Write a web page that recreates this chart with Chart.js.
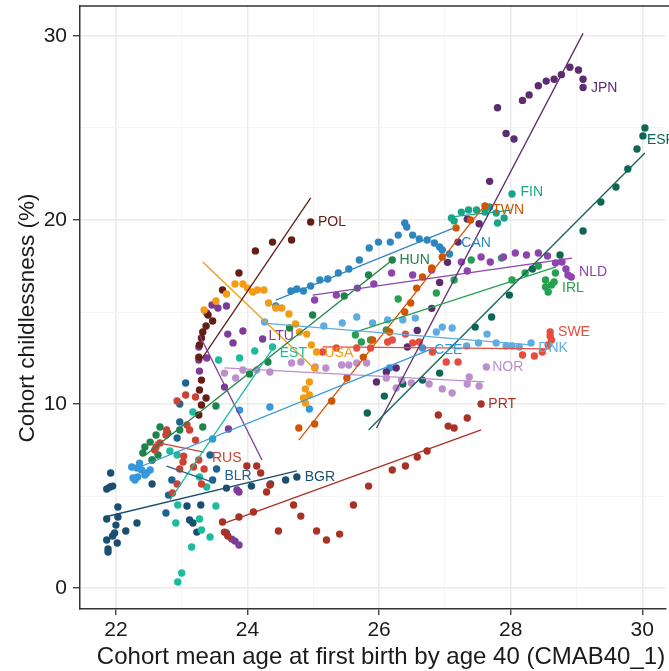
<!DOCTYPE html>
<html>
<head>
<meta charset="utf-8">
<script src="https://cdn.jsdelivr.net/npm/chart.js@4.4.1/dist/chart.umd.min.js"></script>
<style>
html,body{margin:0;padding:0;background:#fff;overflow:hidden;}
canvas{display:block;}
</style>
</head>
<body>
<canvas id="c" width="669" height="671"></canvas>
<script>
// ---------- DATA (x = cohort mean age at first birth, y = childlessness %) ----------
const countries = ['BGR','BLR','CAN','CZE','DNK','ESP','EST','FIN','HUN','IRL','JPN','LTU','NLD','NOR','POL','PRT','RUS','SWE','TWN','USA'];

const BGR = [[21.86,3.75],[21.86,2.61],[21.88,2.12],[21.88,1.96],[21.91,5.49],[21.86,5.38],[21.92,6.25],[21.95,5.54],[21.95,2.83],[21.98,2.99],[22.00,3.42],[22.02,2.45],[22.03,4.40],[22.03,3.86],[22.15,3.10],[22.32,3.53],[22.55,5.65],[23.08,4.46],[23.12,3.70],[23.17,3.53],[23.23,3.04],[23.29,4.51],[23.68,5.43],[24.06,5.54],[24.35,5.65],[24.58,5.87],[24.75,6.03]];
const BLR = [[22.76,4.08],[22.80,5.05],[22.85,5.87],[22.93,8.15],[22.97,9.02],[22.97,10.0],[23.06,11.14],[23.43,7.23],[23.47,5.87],[23.53,6.47]];
const CAN = [[24.43,15.33],[24.66,16.14],[24.75,16.25],[24.85,16.14],[24.96,16.41],[25.10,16.74],[25.22,16.79],[25.38,17.12],[25.54,17.34],[25.70,17.83],[25.85,18.48],[25.99,18.80],[26.17,18.80],[26.29,19.18],[26.39,19.84],[26.42,19.62],[26.51,19.18],[26.61,18.97],[26.73,18.91],[26.84,18.75],[26.92,18.53],[26.96,18.37],[27.07,18.15]];
const CZE = [[22.24,6.58],[22.29,5.87],[22.32,6.52],[22.33,6.03],[22.39,6.41],[22.44,6.14],[22.47,6.25],[22.52,6.41],[22.55,6.96],[22.26,5.98],[22.36,6.79],[23.47,8.10],[23.88,9.67],[24.34,9.84],[24.94,9.73],[26.16,11.96],[26.66,13.04]];
const DNK = [[24.26,14.46],[25.16,14.24],[25.44,14.40],[25.66,14.73],[25.90,14.40],[26.13,14.57],[26.36,14.57],[26.55,14.67],[26.87,13.91],[26.96,14.18],[27.11,14.13],[27.33,13.15],[27.51,13.32],[27.64,13.80],[27.78,13.32],[27.93,13.15],[28.02,13.15],[28.13,13.10],[28.31,13.32]];
const ESP = [[25.82,9.51],[26.08,10.43],[26.36,11.09],[26.66,11.30],[26.92,11.68],[27.46,14.18],[27.71,14.73],[27.98,15.92],[28.33,17.34],[28.75,18.10],[29.10,19.40],[29.37,20.98],[29.60,21.79],[29.78,22.77],[29.92,23.86],[30.01,24.57],[30.04,25.0]];
const EST = [[22.82,7.45],[22.93,7.23],[23.17,9.57],[23.27,6.03],[23.38,5.49],[23.52,4.46],[23.27,3.75],[23.30,3.15],[23.43,2.77],[23.15,2.23],[22.94,4.51],[22.91,3.53],[23.00,0.82],[22.94,0.33],[23.56,12.39],[23.88,12.5],[24.11,12.88],[24.38,13.10]];
const FIN = [[27.10,20.11],[27.14,19.95],[27.25,20.43],[27.36,20.54],[27.48,20.54],[27.61,20.43],[27.68,20.71],[27.78,20.38],[27.80,19.84],[27.90,20.11],[28.02,21.41]];
const HUN = [[22.41,7.34],[22.44,7.66],[22.52,7.93],[22.55,6.96],[22.61,8.32],[22.64,7.23],[22.67,8.75],[22.79,8.42],[22.97,8.59],[23.32,8.75],[23.52,9.89],[24.03,11.63],[24.31,12.28],[24.64,14.13],[24.99,14.84],[25.47,15.87],[25.84,17.01],[26.20,17.83]];
const IRL = [[25.64,13.75],[25.73,13.37],[25.87,13.48],[26.11,14.02],[26.29,15.71],[26.87,16.03],[27.14,16.74],[27.40,17.83],[27.86,17.93],[28.02,16.74],[28.22,17.12],[28.42,17.50],[28.53,16.74],[28.53,16.36],[28.57,16.09],[28.62,16.47],[28.66,16.63],[28.68,17.12]];
const JPN = [[25.96,11.2],[26.11,11.74],[26.26,11.96],[26.43,13.1],[26.58,14.0],[26.80,15.2],[26.92,16.6],[27.04,17.7],[27.20,18.8],[27.34,20.05],[27.52,19.8],[27.68,22.1],[27.93,24.7],[28.05,24.4],[27.80,26.1],[28.18,26.5],[28.28,26.8],[28.42,27.3],[28.54,27.55],[28.66,27.65],[28.77,27.9],[28.90,28.3],[29.03,28.15],[29.10,27.65],[29.10,27.2]];
const LTU = [[23.26,13.10],[23.26,12.39],[23.27,11.79],[23.38,14.95],[23.38,12.50],[23.46,15.38],[23.55,15.22],[23.68,15.33],[23.70,13.80],[23.78,13.32],[23.93,13.97],[24.23,13.53],[23.65,10.92],[23.71,8.64],[23.84,5.33],[23.87,5.22],[23.68,2.99],[23.76,2.66],[23.81,2.55],[23.87,2.34]];
const NLD = [[25.02,15.65],[25.35,15.92],[25.67,16.30],[25.92,16.52],[26.19,17.12],[26.51,17.01],[26.80,17.28],[27.25,17.72],[27.34,17.23],[27.55,17.99],[27.69,17.72],[27.89,17.99],[28.07,18.21],[28.24,18.10],[28.42,18.21],[28.56,18.04],[28.68,17.66],[28.78,17.72],[28.84,17.34],[28.87,17.01],[28.92,16.90]];
const NOR = [[23.65,11.68],[23.82,11.41],[23.93,11.85],[24.14,11.85],[24.34,11.74],[24.67,12.23],[24.81,12.28],[25.03,12.01],[25.19,11.96],[25.43,12.12],[25.54,12.12],[25.66,12.23],[25.81,12.23],[26.11,11.41],[26.26,10.87],[26.34,11.30],[26.49,11.14],[26.76,11.09],[26.96,10.82],[27.11,10.60],[27.34,11.09],[27.37,11.47],[27.52,10.98],[27.63,12.01]];
const POL = [[23.26,9.40],[23.30,9.95],[23.37,10.33],[23.27,10.76],[23.30,11.30],[23.26,12.55],[23.27,13.21],[23.30,13.59],[23.32,13.91],[23.37,14.24],[23.47,14.51],[23.40,14.84],[23.62,16.20],[23.87,17.12],[24.12,18.32],[24.38,18.80],[24.67,18.91],[24.96,19.89]];
const PRT = [[23.62,3.59],[23.65,3.04],[23.70,2.83],[23.87,3.86],[23.99,6.63],[24.14,6.63],[24.20,6.25],[24.34,5.60],[24.29,5.22],[24.09,4.13],[24.47,3.10],[24.70,4.51],[24.81,3.91],[25.05,3.10],[25.20,2.61],[25.40,2.93],[25.61,4.51],[25.84,5.54],[26.20,6.41],[26.40,6.63],[26.58,7.12],[26.73,7.45],[26.90,9.40],[27.05,8.80],[27.14,8.70],[27.34,9.24],[27.55,10.0]];
const RUS = [[22.59,7.5],[22.61,7.66],[22.67,7.88],[22.76,8.32],[22.77,8.59],[22.93,10.16],[23.06,10.49],[23.21,10.38],[23.08,8.86],[23.12,8.59],[23.21,8.04],[23.02,6.85],[23.03,7.17],[22.97,6.47],[22.93,5.65],[22.86,5.16],[23.26,6.96],[23.34,6.47],[23.30,5.65],[23.18,6.58]];
const SWE = [[25.14,12.83],[25.35,13.04],[25.66,13.04],[25.87,13.04],[26.13,13.37],[26.20,13.48],[26.40,13.80],[26.51,13.32],[26.61,13.37],[26.81,12.83],[27.02,12.28],[27.20,12.28],[28.18,12.66],[28.36,12.61],[28.48,12.83],[28.57,13.21],[28.62,13.48],[28.60,13.70],[28.60,13.91]];
const TWN = [[24.78,8.70],[25.02,8.91],[25.28,10.16],[25.51,11.41],[25.76,12.55],[25.90,13.48],[26.16,13.91],[26.39,15.0],[26.48,15.49],[26.57,16.30],[26.66,16.90],[26.80,17.39],[26.96,17.99],[27.17,19.57],[27.39,20.0],[27.61,20.76]];
const USA = [[23.34,15.11],[23.52,15.60],[23.68,15.98],[23.81,16.52],[23.93,16.52],[24.00,16.30],[24.08,16.09],[24.15,16.20],[24.25,16.20],[24.32,15.49],[24.43,15.22],[24.52,15.22],[24.63,14.89],[24.73,14.35],[24.79,13.91],[24.90,13.80],[24.97,13.21],[25.05,12.83],[25.02,11.96],[24.94,11.20],[24.88,10.82],[24.94,10.49],[24.85,10.33],[24.88,10.05]];

// fitted linear trend per country: [x start, y start, x end, y end]
const fits = [
  [21.83,3.86,24.75,6.36],   // BGR
  [22.77,6.63,23.50,5.71],   // BLR
  [24.43,15.65,27.12,19.55], // CAN
  [22.24,6.40,26.80,13.00],  // CZE
  [24.23,14.40,28.31,13.21], // DNK
  [25.84,8.59,30.04,23.64],  // ESP
  [22.82,4.78,24.40,13.10],  // EST
  [27.07,20.16,28.00,20.54], // FIN
  [22.45,7.23,26.20,17.83],  // HUN
  [25.60,13.86,28.69,17.45], // IRL
  [25.96,8.70,29.10,30.14],  // JPN
  [23.27,13.75,24.22,6.96],  // LTU
  [24.99,15.92,28.93,17.93], // NLD
  [23.65,11.96,27.60,11.20], // NOR
  [23.27,12.28,24.96,21.20], // POL
  [23.65,3.53,27.55,8.59],   // PRT
  [22.59,7.93,23.34,7.39],   // RUS
  [25.14,13.10,28.60,13.00], // SWE
  [24.78,8.04,27.61,20.82],  // TWN
  [23.32,17.72,25.07,11.74]  // USA
];

// where each country's code is written: [x, y]
const labelAt = [
  [24.87,6.03],[23.65,6.09],[27.25,18.75],[26.84,12.93],[28.42,13.04],
  [30.07,24.35],[24.49,12.77],[28.15,21.52],[26.31,17.83],[28.78,16.30],
  [29.22,27.17],[24.32,13.70],[29.04,17.17],[27.72,12.01],[25.07,19.89],
  [27.66,10.00],[23.46,7.07],[28.72,13.91],[27.72,20.54],[25.17,12.77]
];

const xTicks = [22,23,24,25,26,27,28,29,30];
const yTicks = [0,5,10,15,20,25,30];
const xTitle = 'Cohort mean age at first birth by age 40 (CMAB40_1)';
const yTitle = 'Cohort childlessness (%)';

// ---------- STYLE ----------
const colors = {
  BGR:'#1b4f72', BLR:'#1f6391', CAN:'#2e86c1', CZE:'#3498db', DNK:'#5dade2',
  ESP:'#0e6655', EST:'#1abc9c', FIN:'#17a589', HUN:'#1e8449', IRL:'#25a050',
  JPN:'#5b2c6f', LTU:'#7d3c98', NLD:'#8e44ad', NOR:'#bb8fce', POL:'#641e16',
  PRT:'#a93226', RUS:'#cb4335', SWE:'#e74c3c', TWN:'#d35400', USA:'#f39c12'
};
const seriesData = {BGR,BLR,CAN,CZE,DNK,ESP,EST,FIN,HUN,IRL,JPN,LTU,NLD,NOR,POL,PRT,RUS,SWE,TWN,USA};
const FONT = "'Liberation Sans', Arial, Helvetica, sans-serif";

const datasets = [];
countries.forEach((c, i) => {
  datasets.push({
    type: 'scatter', label: c,
    data: seriesData[c].map(p => ({x: p[0], y: p[1]})),
    backgroundColor: colors[c], borderWidth: 0, pointRadius: 3.7, pointHoverRadius: 3.7,
    order: 100 - i
  });
});
countries.forEach((c, i) => {
  const f = fits[i];
  datasets.push({
    type: 'line', label: c + ' fit',
    data: [{x: f[0], y: f[1]}, {x: f[2], y: f[3]}],
    borderColor: colors[c], borderWidth: 1.3, pointRadius: 0, fill: false, tension: 0,
    order: 10
  });
});

const framePlugin = {
  id: 'frame',
  afterDraw(chart) {
    const {ctx, chartArea: a} = chart;
    ctx.save();
    ctx.strokeStyle = '#333';
    ctx.lineWidth = 1.5;
    ctx.beginPath();
    ctx.moveTo(a.left, a.top); ctx.lineTo(a.right + 4, a.top);
    ctx.stroke();
    // axis titles
    ctx.fillStyle = '#1a1a1a';
    ctx.textAlign = 'center';
    ctx.textBaseline = 'middle';
    ctx.font = '24px ' + FONT;
    ctx.fillText(xTitle, 381, 657);
    ctx.translate(28, 318);
    ctx.rotate(-Math.PI / 2);
    ctx.font = '22.5px ' + FONT;
    ctx.fillText(yTitle, 0, 0);
    ctx.restore();
  }
};
const labelPlugin = {
  id: 'codes',
  afterDatasetsDraw(chart) {
    const {ctx} = chart;
    const xs = chart.scales.x, ys = chart.scales.y;
    ctx.save();
    ctx.font = '14px ' + FONT;
    ctx.textAlign = 'left';
    ctx.textBaseline = 'middle';
    countries.forEach((c, i) => {
      ctx.fillStyle = colors[c];
      ctx.fillText(c, xs.getPixelForValue(labelAt[i][0]), ys.getPixelForValue(labelAt[i][1]));
    });
    ctx.restore();
  }
};

const gridColor = major => major ? '#ebebeb' : '#f3f3f3';

new Chart(document.getElementById('c'), {
  data: {datasets},
  options: {
    responsive: false, animation: false, devicePixelRatio: 1,
    layout: {padding: {top: 6, left: 0, right: 0, bottom: 0}},
    plugins: {legend: {display: false}, tooltip: {enabled: false}},
    scales: {
      x: {
        type: 'linear', position: 'bottom', min: 21.454, max: 30.35,
        afterBuildTicks: s => { s.ticks = xTicks.map(v => ({value: v})); },
        afterFit: s => { s.height = 62; s.paddingLeft = 0; s.paddingRight = 0; },
        ticks: {
          callback: v => (v % 2 === 0 ? String(v) : ''),
          color: '#1a1a1a', font: {family: FONT, size: 21}, padding: 3, maxRotation: 0, autoSkip: false
        },
        grid: {
          color: c => gridColor(c.tick && c.tick.value % 2 === 0),
          lineWidth: c => (c.tick && c.tick.value % 2 === 0 ? 1.5 : 0.8),
          tickColor: c => (c.tick && c.tick.value % 2 === 0 ? '#333' : 'rgba(0,0,0,0)'),
          tickLength: 6, tickWidth: 1.3
        },
        border: {display: true, color: '#333', width: 1.5},
        title: {display: false}
      },
      y: {
        type: 'linear', position: 'left', min: -1.14, max: 31.63,
        afterBuildTicks: s => { s.ticks = yTicks.map(v => ({value: v})); },
        afterFit: s => { s.width = 80; s.paddingTop = 0; s.paddingBottom = 0; },
        ticks: {
          callback: v => (v % 10 === 0 ? String(v) : ''),
          color: '#1a1a1a', font: {family: FONT, size: 21}, padding: 6, autoSkip: false
        },
        grid: {
          color: c => gridColor(c.tick && c.tick.value % 10 === 0),
          lineWidth: c => (c.tick && c.tick.value % 10 === 0 ? 1.5 : 0.8),
          tickColor: c => (c.tick && c.tick.value % 10 === 0 ? '#333' : 'rgba(0,0,0,0)'),
          tickLength: 7, tickWidth: 1.3
        },
        border: {display: true, color: '#333', width: 1.5},
        title: {display: false}
      }
    }
  },
  plugins: [framePlugin, labelPlugin]
});
</script>
</body>
</html>
